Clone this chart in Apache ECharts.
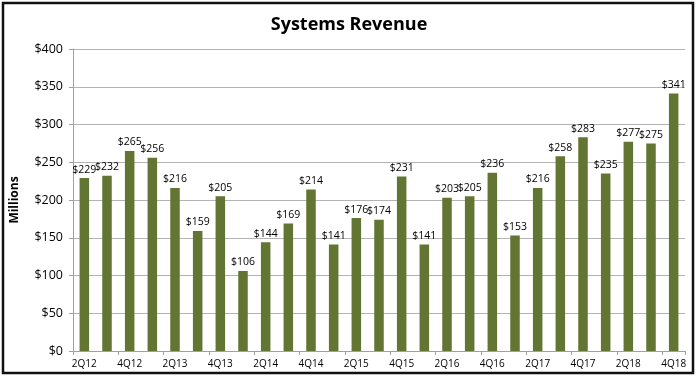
<!DOCTYPE html>
<html><head><meta charset="utf-8">
<script src="https://cdn.jsdelivr.net/npm/echarts@6/dist/echarts.min.js"></script>
<style>html,body{margin:0;padding:0;background:#fff}#c{width:698px;height:378px}</style>
</head><body><div id="c"></div>
<script>
const categories = ['2Q12','3Q12','4Q12','1Q13','2Q13','3Q13','4Q13','1Q14','2Q14','3Q14','4Q14','1Q15','2Q15','3Q15','4Q15','1Q16','2Q16','3Q16','4Q16','1Q17','2Q17','3Q17','4Q17','1Q18','2Q18','3Q18','4Q18'];
const revenue = [229,232,265,256,216,159,205,106,144,169,214,141,176,174,231,141,203,205,236,153,216,258,283,235,277,275,341];
const yTicks = [0,50,100,150,200,250,300,350,400];

const chart = echarts.init(document.getElementById('c'));
const font = "'Open Sans', 'Liberation Sans', sans-serif";
chart.setOption({
  animation: false,
  backgroundColor: '#fff',
  title: {
    text: 'Systems Revenue', left: 'center', top: 11,
    textStyle: {fontFamily: font, fontSize: 18, fontWeight: 'bold', color: '#000'}
  },
  graphic: [{
    type: 'rect', shape: {x: 3, y: 3, width: 690, height: 370},
    style: {fill: 'none', stroke: '#111', lineWidth: 2.5}, z: 100
  }],
  grid: {left: 73, right: 13, top: 49, bottom: 27},
  xAxis: {
    type: 'category', data: categories,
    axisLine: {lineStyle: {color: '#a0a0a0'}},
    axisTick: {show: true, alignWithLabel: false, length: 4, lineStyle: {color: '#a0a0a0'}},
    axisLabel: {interval: 1, fontFamily: font, fontSize: 10, color: '#000', margin: 8}
  },
  yAxis: {
    type: 'value', min: yTicks[0], max: yTicks[yTicks.length-1], interval: 50,
    name: 'Millions', nameLocation: 'middle', nameGap: 52,
    nameTextStyle: {fontFamily: font, fontSize: 12, fontWeight: 'bold', color: '#000'},
    axisLine: {show: true, lineStyle: {color: '#a0a0a0'}},
    axisTick: {show: true, length: 4, lineStyle: {color: '#a0a0a0'}},
    splitLine: {lineStyle: {color: '#b4b4b4'}},
    axisLabel: {fontFamily: font, fontSize: 12.5, color: '#000', margin: 10, formatter: v => '$' + v}
  },
  series: [{
    type: 'bar', data: revenue, barWidth: '42%',
    itemStyle: {color: '#637532'},
    label: {show: true, position: 'top', distance: 3, fontFamily: font, fontSize: 10.5, color: '#000', formatter: p => '$' + p.value}
  }]
});
</script></body></html>
